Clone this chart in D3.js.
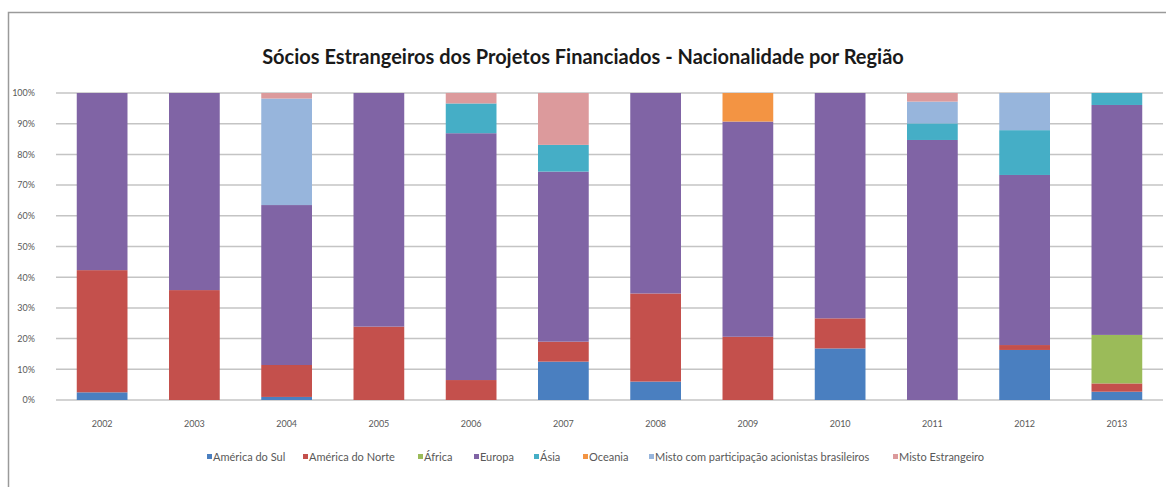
<!DOCTYPE html>
<html>
<head>
<meta charset="utf-8">
<script src="https://cdn.jsdelivr.net/npm/d3@7"></script>
<style>
	body { margin: 0; background: #fff; }
	.chart { display: block; }
	.axisLabel { font-family: Lato, "Open Sans", sans-serif; font-size: 9px; fill: #595959; }
	.title { font-family: Lato, "Open Sans", sans-serif; font-size: 20px; font-weight: bold; fill: #1a1a1a; }
	.legendText { font-family: Lato, "Open Sans", sans-serif; font-size: 11px; fill: #595959; }
</style>
</head>
<body>
<svg class="chart"></svg>
<script>
var years = ["2002", "2003", "2004", "2005", "2006", "2007", "2008", "2009", "2010", "2011", "2012", "2013"];
var regions = ["América do Sul", "América do Norte", "África", "Europa", "Ásia", "Oceania",
	"Misto com participação acionistas brasileiros", "Misto Estrangeiro"];
var colors = ["#4a7fc0", "#c4504c", "#9bbb59", "#8064a5", "#45aec6", "#f39443", "#97b5dc", "#dc9a9c"];

// percentages per year
var americaSul   = [2.5, 0, 1, 0, 0, 12.5, 6, 0, 16.8, 0, 16.3, 2.7];
var americaNorte = [39.8, 35.8, 10.4, 23.9, 6.5, 6.5, 28.7, 20.6, 9.8, 0, 1.6, 2.7];
var africa       = [0, 0, 0, 0, 0, 0, 0, 0, 0, 0, 0, 15.8];
var europa       = [57.7, 64.2, 52.1, 76.1, 80.4, 55.4, 65.3, 70.1, 73.4, 84.7, 55.4, 74.9];
var asia         = [0, 0, 0, 0, 9.7, 8.7, 0, 0, 0, 5.4, 14.6, 3.9];
var oceania      = [0, 0, 0, 0, 0, 0, 0, 9.3, 0, 0, 0, 0];
var mistoBr      = [0, 0, 34.7, 0, 0, 0, 0, 0, 0, 7.1, 12.1, 0];
var mistoEstr    = [0, 0, 1.8, 0, 3.4, 16.9, 0, 0, 0, 2.8, 0, 0];

var yTicks = [0, 10, 20, 30, 40, 50, 60, 70, 80, 90, 100];

var series = [americaSul, americaNorte, africa, europa, asia, oceania, mistoBr, mistoEstr];

var width = 1166;
var height = 487;

var table = years.map(function(yr, i) {
	var row = { year: yr };
	regions.forEach(function(r, k) { row[r] = series[k][i]; });
	return row;
});

var svg = d3.select(".chart").attr("width", width).attr("height", height);

// frame
svg.append("path")
	.attr("d", "M8.5," + height + "V12.5H" + width)
	.attr("fill", "none")
	.attr("stroke", "#9a9a9a")
	.attr("stroke-width", 1.5);

svg.append("text")
	.attr("class", "title")
	.attr("x", 583)
	.attr("y", 64)
	.attr("text-anchor", "middle")
	.text("Sócios Estrangeiros dos Projetos Financiados - Nacionalidade por Região");

var x = d3.scaleBand().domain(years).range([56, 1163]).paddingInner(0.45).paddingOuter(0.225);
var y = d3.scaleLinear().domain([0, 100]).range([400, 93]);

// gridlines
svg.append("g").selectAll("line").data(yTicks).enter().append("line")
	.attr("x1", 56).attr("x2", 1163)
	.attr("y1", function(d) { return y(d); })
	.attr("y2", function(d) { return y(d); })
	.attr("stroke", "#c4c4c4")
	.attr("stroke-width", 1.5);

var yAxis = svg.append("g")
	.attr("transform", "translate(38,0)")
	.call(d3.axisLeft(y).tickValues(yTicks).tickSize(0).tickFormat(function(d) { return d + "%"; }));
yAxis.select(".domain").remove();
yAxis.selectAll("text").attr("class", "axisLabel").attr("font-family", null).attr("font-size", null).attr("fill", null);

var xAxis = svg.append("g")
	.attr("transform", "translate(0,418)")
	.call(d3.axisBottom(x).tickSize(0));
xAxis.select(".domain").remove();
xAxis.selectAll("text").attr("class", "axisLabel").attr("font-family", null).attr("font-size", null).attr("fill", null);

var stacked = d3.stack().keys(regions)(table);

svg.append("g").selectAll("g").data(stacked).enter().append("g")
	.attr("fill", function(d, i) { return colors[i]; })
	.selectAll("rect").data(function(d) { return d; }).enter().append("rect")
	.attr("x", function(d) { return x(d.data.year); })
	.attr("width", x.bandwidth())
	.attr("y", function(d) { return y(d[1]); })
	.attr("height", function(d) { return y(d[0]) - y(d[1]); });

// legend
var legendX = [207, 303, 418, 474, 534, 583, 649, 893];
var legend = svg.append("g").selectAll("g").data(regions).enter().append("g")
	.attr("transform", function(d, i) { return "translate(" + legendX[i] + ",461)"; });

legend.append("rect")
	.attr("x", 0).attr("y", -7)
	.attr("width", 5).attr("height", 5)
	.attr("fill", function(d, i) { return colors[i]; });

legend.append("text")
	.attr("class", "legendText")
	.attr("x", 6)
	.attr("y", 0)
	.text(function(d) { return d; });
</script>
</body>
</html>
